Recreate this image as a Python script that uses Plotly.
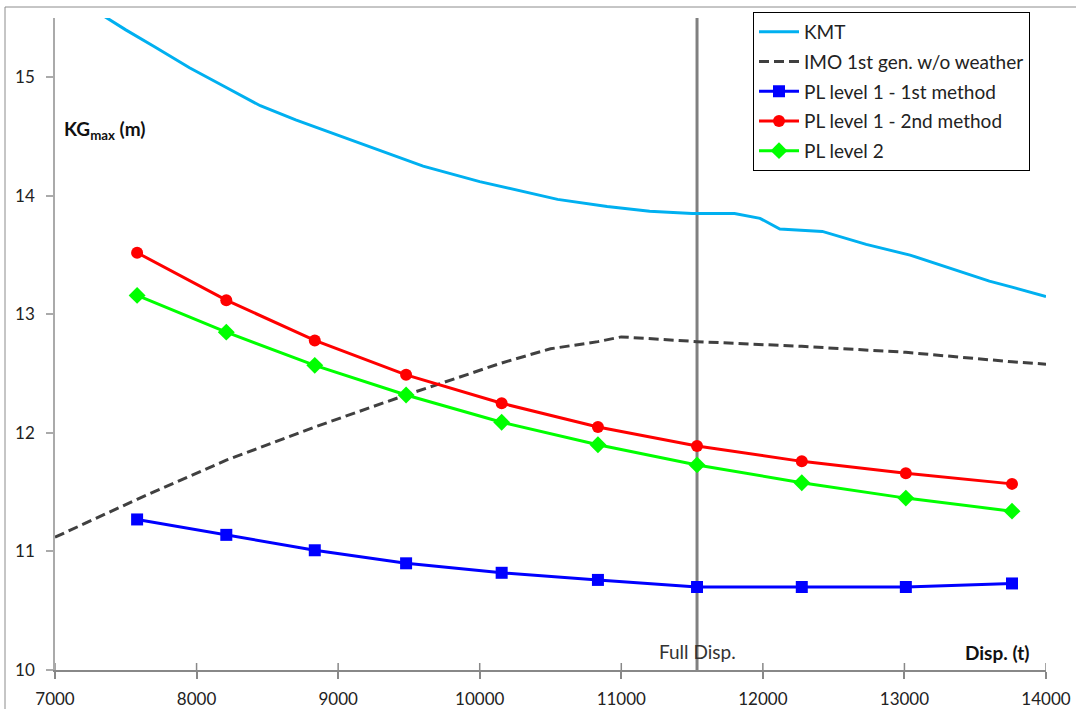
import plotly.graph_objects as go

# ---- data ----
kmt_x = [7300, 7500, 7700, 7950, 8200, 8450, 8700, 9000, 9200, 9600, 10000, 10250,
         10550, 10900, 11200, 11500, 11800, 11980, 12120, 12420, 12730, 13040, 13300,
         13600, 13760, 14000]
kmt_y = [15.55, 15.40, 15.26, 15.08, 14.92, 14.76, 14.64, 14.51, 14.43, 14.25, 14.12, 14.05,
         13.97, 13.91, 13.87, 13.85, 13.85, 13.81, 13.72, 13.70, 13.59, 13.50, 13.40,
         13.28, 13.23, 13.15]

imo_x = [7000, 7580, 8210, 8835, 9480, 10155, 10500, 10835, 11000, 11535, 12275, 13010, 13760, 14000]
imo_y = [11.12, 11.44, 11.77, 12.05, 12.32, 12.59, 12.71, 12.77, 12.81, 12.77, 12.73, 12.68, 12.60, 12.58]

disp = [7580, 8210, 8835, 9480, 10155, 10835, 11535, 12275, 13010, 13760]
pl1_m1 = [11.27, 11.14, 11.01, 10.90, 10.82, 10.76, 10.70, 10.70, 10.70, 10.73]
pl1_m2 = [13.52, 13.12, 12.78, 12.49, 12.25, 12.05, 11.89, 11.76, 11.66, 11.57]
pl2 = [13.16, 12.85, 12.57, 12.32, 12.09, 11.90, 11.73, 11.58, 11.45, 11.34]

full_disp = 11535
x_ticks = [7000, 8000, 9000, 10000, 11000, 12000, 13000, 14000]
x_ticktext = ["7000", "8000", "9000", "10000", "11000", "12000", "13000", "14000"]
y_ticks = [10, 11, 12, 13, 14, 15]
y_ticktext = ["10", "11", "12", "13", "14", "15"]
x_range = [7000, 14000]
y_range = [10, 15.5]

FONT = "Lato"

fig = go.Figure()

fig.add_trace(go.Scatter(x=kmt_x, y=kmt_y, mode="lines", name="KMT",
                         line=dict(color="#00B0F0", width=3), legendgroup="a"))
fig.add_trace(go.Scatter(x=imo_x, y=imo_y, mode="lines", name="IMO 1st gen. w/o weather",
                         line=dict(color="#404040", width=3, dash="10px,5px"), legendgroup="b"))
fig.add_trace(go.Scatter(x=disp, y=pl1_m1, mode="lines+markers", name="PL level 1 - 1st method",
                         line=dict(color="#0000FF", width=3),
                         marker=dict(symbol="square", size=12, color="#0000FF"), legendgroup="c"))
fig.add_trace(go.Scatter(x=disp, y=pl1_m2, mode="lines+markers", name="PL level 1 - 2nd method",
                         line=dict(color="#FF0000", width=3),
                         marker=dict(symbol="circle", size=12, color="#FF0000"), legendgroup="d"))
fig.add_trace(go.Scatter(x=disp, y=pl2, mode="lines+markers", name="PL level 2",
                         line=dict(color="#00FF00", width=3),
                         marker=dict(symbol="diamond", size=13, color="#00FF00"), legendgroup="e"))

# full displacement vertical line
fig.add_shape(type="line", x0=full_disp, x1=full_disp, xref="x", y0=0, y1=1, yref="paper",
              line=dict(color="#808080", width=3), layer="below")

# inside half of the crossing x ticks
for t in x_ticks:
    fig.add_shape(type="line", x0=t, x1=t, xref="x", y0=0, y1=7 / 652, yref="paper",
                  line=dict(color="#888888", width=1.5))

# outer chart border
fig.add_shape(type="rect", xref="paper", yref="paper", x0=-50 / 991, x1=1.2, y0=-0.3,
              y1=1 + 11 / 652, line=dict(color="#8C8C8C", width=1),
              fillcolor="rgba(0,0,0,0)")

fig.add_annotation(x=7 / 991, y=(670 - 130) / 652, xref="paper", yref="paper",
                   text="<b>KG<sub>max</sub> (m)</b>", showarrow=False, xanchor="left",
                   yanchor="middle", font=dict(family=FONT, size=19, color="#111"))
fig.add_annotation(x=(1032 - 55) / 991, y=(670 - 652) / 652, xref="paper", yref="paper",
                   text="<b>Disp. (t)</b>", showarrow=False, xanchor="right",
                   yanchor="middle", font=dict(family=FONT, size=19, color="#111"))
fig.add_annotation(x=full_disp, y=(670 - 651) / 652, xref="x", yref="paper",
                   text="Full Disp.", showarrow=False, xanchor="center",
                   yanchor="middle", font=dict(family=FONT, size=19, color="#333"))

fig.update_layout(
    width=1076, height=709,
    margin=dict(l=55, r=30, t=18, b=39, autoexpand=False),
    paper_bgcolor="white", plot_bgcolor="white",
    font=dict(family=FONT, size=17, color="#222"),
    showlegend=True,
    legend=dict(x=(753 - 55) / 991, y=(670 - 12) / 652, xanchor="left", yanchor="top",
                bordercolor="#000", borderwidth=1, bgcolor="white", tracegroupgap=2,
                itemwidth=40,
                font=dict(family=FONT, size=19, color="#222")),
    xaxis=dict(range=x_range, tickmode="array", tickvals=x_ticks, ticktext=x_ticktext,
               showgrid=False, zeroline=False, automargin=False,
               showline=True, linecolor="#888888", linewidth=1.5,
               ticks="outside", ticklen=7, tickcolor="#888888", tickwidth=1.5,
               ticklabelstandoff=6),
    yaxis=dict(range=y_range, tickmode="array", tickvals=y_ticks, ticktext=y_ticktext,
               showgrid=False, zeroline=False, automargin=False,
               showline=True, linecolor="#AAAAAA", linewidth=1.5,
               ticks="outside", ticklen=7, tickcolor="#AAAAAA", tickwidth=1.5,
               ticklabelstandoff=8),
)

fig.write_html("out.html", config={"displayModeBar": False},
               post_script="document.body.style.margin='0';")
